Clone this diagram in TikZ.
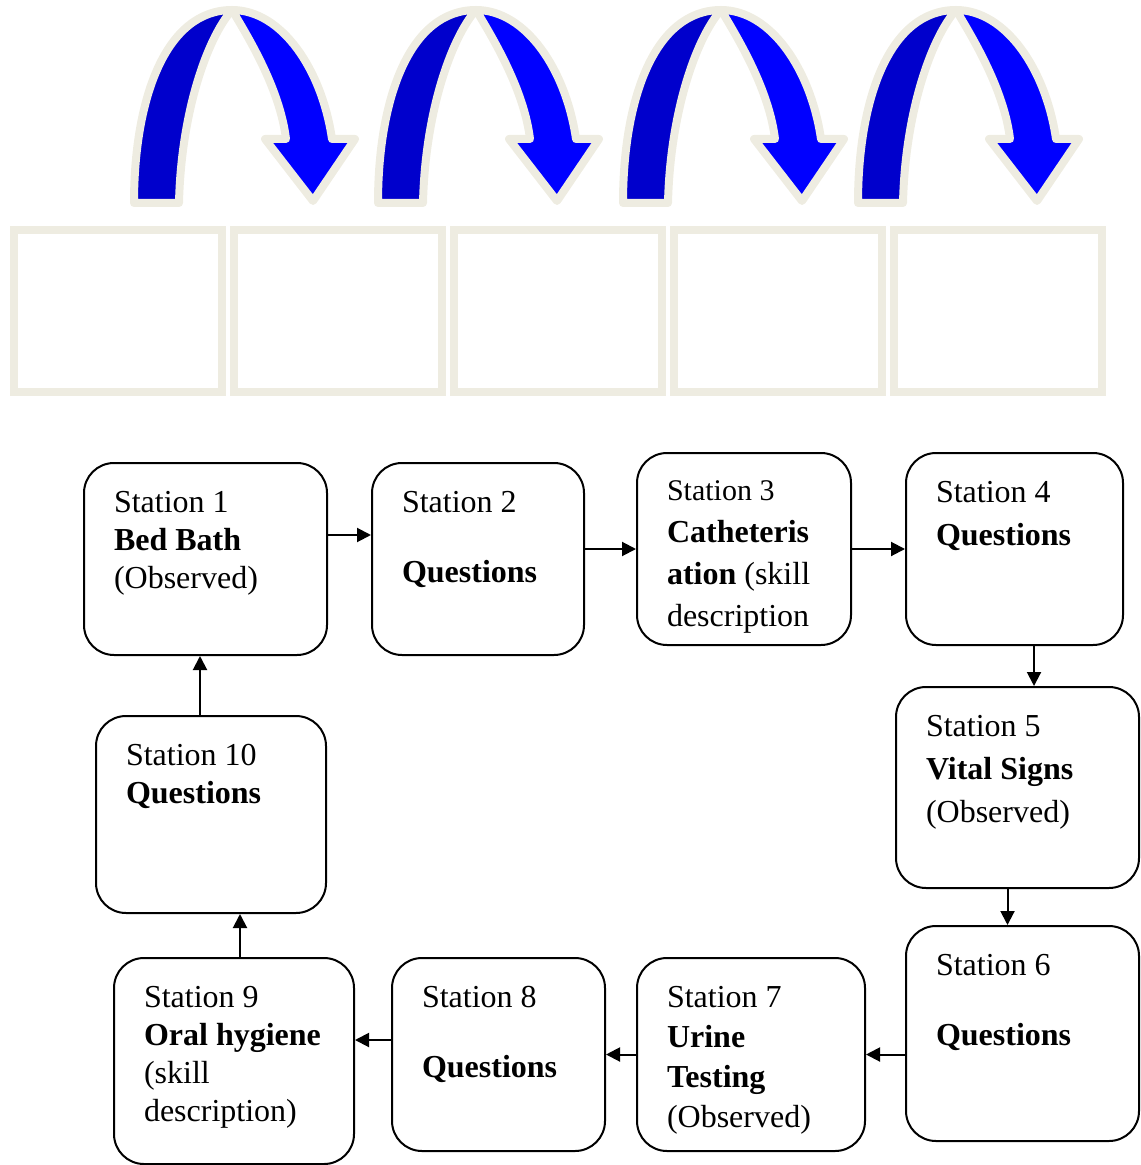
\documentclass[tikz,border=0pt]{standalone}
\usepackage{fontspec}
\setmainfont{Liberation Serif}
\usetikzlibrary{arrows.meta,calc}
\definecolor{cream}{HTML}{EEECE1}
\definecolor{arcdark}{HTML}{0000CC}
\definecolor{arcblue}{HTML}{0000FF}
\newcommand{\stationtext}[3]{\parbox[c][\dimexpr#2pt/2-28pt\relax][t]{\dimexpr#1pt/2-30pt\relax}{#3}}
\tikzset{
  stationbox/.style={draw,line width=1pt,rounded corners=15pt,inner xsep=15pt,inner ysep=14pt,
                     font=\fontsize{16}{19}\selectfont},
  lead/.style={font=\fontsize{16}{#1}\selectfont},
  link/.style={-{Triangle[length=7pt,width=7pt]},line width=1pt},
  slot/.style={draw=cream,line width=4pt,minimum width=104pt,minimum height=81pt,inner sep=0pt},
  curvearrow/.style={draw=cream,line width=4pt,line join=round},
}

\begin{document}
\begin{tikzpicture}[x=0.5pt,y=-0.5pt]
  \useasboundingbox (0,0) rectangle (1140,1165);
  \foreach \dx in {0,244,489,724} {
    \begin{scope}[shift={(\dx,0)}]
      \filldraw[curvearrow,fill=arcdark] (134,203) .. controls (134,100) and (165,10) .. (232,10)
        .. controls (206,40) and (181,115) .. (179,203) -- cycle;
      \filldraw[curvearrow,fill=arcblue] (232,10) .. controls (282,10) and (322,70) .. (332,139)
        -- (355,139) -- (313,201) -- (265,139) -- (286,139) .. controls (280,90) and (250,40) .. (232,10) -- cycle;
    \end{scope}
  }
  \foreach \i in {0,...,4}
    \node[slot] (slot\i) at ({118+220*\i},311) {};

  \node[stationbox] (s1) at (205.5,559) {\stationtext{243}{192}{Station 1\\\textbf{Bed Bath}\\(Observed)}};
  \node[stationbox] (s2) at (478,559) {\stationtext{212}{192}{Station 2\\[16pt]\textbf{Questions}}};
  \node[stationbox,lead=21] (s3) at (744,549) {\stationtext{214}{192}{{\fontsize{15}{21}\selectfont Station 3}\\\textbf{Catheteris}\\\textbf{ation} (skill\\description}};
  \node[stationbox,lead=21.5] (s4) at (1014.5,549) {\stationtext{217}{192}{Station 4\\\textbf{Questions}}};
  \node[stationbox,lead=21.5] (s5) at (1017.5,787.5) {\stationtext{243}{201}{Station 5\\\textbf{Vital Signs}\\(Observed)}};
  \node[stationbox] (s6) at (1022.5,1033.5) {\stationtext{233}{215}{Station 6\\[16pt]\textbf{Questions}}};
  \node[stationbox,lead=20] (s7) at (751,1054.5) {\stationtext{228}{193}{Station 7\\\textbf{Urine}\\\textbf{Testing}\\(Observed)}};
  \node[stationbox] (s8) at (498.5,1054.5) {\stationtext{213}{193}{Station 8\\[16pt]\textbf{Questions}}};
  \node[stationbox] (s9) at (234,1061) {\stationtext{240}{206}{Station 9\\\textbf{Oral hygiene}\\(skill\\description)}};
  \node[stationbox] (s10) at (211,814.5) {\stationtext{230}{197}{Station 10\\\textbf{Questions}}};

  \draw[link] ([yshift=12pt]s1.east) -- ([yshift=12pt]s2.west);
  \draw[link] (s2.east |- s3.west) -- (s3.west);
  \draw[link] (s3.east) -- (s4.west);
  \draw[link] ([xshift=9.75pt]s4.south) -- ([xshift=9.75pt]s4.south |- s5.north);
  \draw[link] ([xshift=-5pt]s5.south) -- ([xshift=-5pt]s5.south |- s6.north);
  \draw[link] (s6.west |- s7.east) -- (s7.east);
  \draw[link] (s7.west) -- (s8.east);
  \draw[link] ([yshift=7.25pt]s8.west) -- ([yshift=7.25pt]s8.west -| s9.east);
  \draw[link] ([xshift=3pt]s9.north) -- ([xshift=3pt]s9.north |- s10.south);
  \draw[link] ([xshift=-5.5pt]s10.north) -- ([xshift=-5.5pt]s10.north |- s1.south);
\end{tikzpicture}
\end{document}
